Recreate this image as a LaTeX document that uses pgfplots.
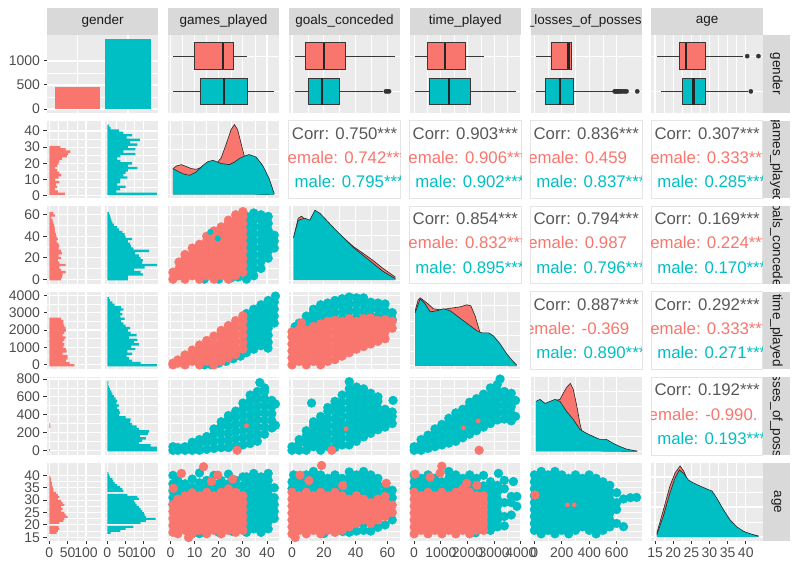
\documentclass[border=0pt]{standalone}
\usepackage{pgfplots}
\usepackage{pgfplotstable}
\pgfplotsset{compat=1.18}
\usepgfplotslibrary{statistics}
\usepackage{fontspec}
\setmainfont{Liberation Sans}
\definecolor{fem}{HTML}{F8766D}
\definecolor{mal}{HTML}{00BFC4}
\definecolor{panelbg}{HTML}{EBEBEB}
\definecolor{stripbg}{HTML}{D9D9D9}
\definecolor{striptext}{HTML}{1A1A1A}
\definecolor{tickgrey}{HTML}{4D4D4D}
\definecolor{tickdark}{HTML}{333333}
\definecolor{corrgrey}{HTML}{595959}
\pgfplotsset{
 gg/.style={scale only axis, width=111.4pt, height=77.5pt, anchor=north west,
   axis background/.style={fill=panelbg}, axis line style={draw=none},
   grid=both, major grid style={draw=white, line width=1.1pt}, minor grid style={draw=white, line width=0.55pt},
   minor x tick num=1, minor y tick num=1,
   tick align=outside, major tick length=3.5pt, minor tick length=0pt,
   xtick pos=left, ytick pos=left,
   xtick style={draw=none}, ytick style={draw=none},
   xticklabel={\relax}, yticklabel={\relax},
   tick label style={font=\fontsize{14}{14}\selectfont, text=tickgrey},
   scaled ticks=false, /pgf/number format/1000 sep={}, /pgf/number format/assume math mode=true},
 xlab/.style={xticklabel={\pgfmathprintnumber{\tick}}, xtick style={draw=tickdark, line width=1pt}},
 ylab/.style={yticklabel={\pgfmathprintnumber{\tick}}, ytick style={draw=tickdark, line width=1pt}},
 atpx/.style 2 args={at={(#1pt,-#2pt)}},
 histax/.style={width=53.5pt, xmin=-6.5, xmax=139.5, xtick={0,50,100}},
 colG/.style={xmin=-1.1, xmax=45.1, xtick={0,10,20,30,40}},
 colK/.style={xmin=-2, xmax=68, xtick={0,20,40,60}},
 colT/.style={xmin=-170, xmax=4005, xtick={0,1000,2000,3000,4000}},
 colL/.style={xmin=-28, xmax=784, xtick={0,200,400,600}},
 colA/.style={xmin=14, xmax=44.7, xtick={15,20,25,30,35,40}},
 rowG/.style={ymin=-1.5, ymax=46.4, ytick={0,10,20,30,40}},
 rowK/.style={ymin=-4.2, ymax=68, ytick={0,20,40,60}},
 rowT/.style={ymin=-255, ymax=4196, ytick={0,1000,2000,3000,4000}},
 rowL/.style={ymin=-52, ymax=818, ytick={0,200,400,600,800}},
 rowA/.style={ymin=13.7, ymax=45, ytick={15,20,25,30,35,40}},
 diagY/.style={ymin=-3.5, ymax=74, ytick={0,30,60}},
 boxrow/.style={ymin=0.4, ymax=2.6, ytick={1,2}, minor y tick num=0},
 corrax/.style={gg, axis background/.style={fill=white}, grid=none, axis line style={draw=black!10, line width=0.8pt},
   xmin=0, xmax=1, ymin=0, ymax=1, xtick=\empty, ytick=\empty},
 bx/.style={fill=#1, draw=black!78, line width=0.9pt, boxplot/draw direction=x, boxplot/box extend=0.75,
   boxplot/whisker extend=0, boxplot/every median/.style={draw=black!85, line width=2.4pt}},
 outl/.style={only marks, mark=*, mark size=2.1pt, black!80},
 scF/.style={only marks, mark=*, mark size=4.4pt, color=fem},
 scM/.style={only marks, mark=*, mark size=4.4pt, color=mal},
 scFs/.style={only marks, mark=*, mark size=2.2pt, color=fem},
 scMs/.style={only marks, mark=*, mark size=2.8pt, color=mal},
 hF/.style={xbar interval, fill=fem, draw=none},
 hM/.style={xbar interval, fill=mal, draw=none},
 dline/.style={draw=black!85, line width=0.6pt},
}
\tikzset{
 ctitle/.style={text=corrgrey, font=\fontsize{16.8}{17}\selectfont},
 cfem/.style={text=fem, font=\fontsize{16.8}{17}\selectfont},
 cmal/.style={text=mal, font=\fontsize{16.8}{17}\selectfont},
}
\newcommand{\pad}[1]{\rule{#1}{0pt}}
\newcommand{\topstrip}[3]{%
 \fill[stripbg] (#1,-8) rectangle ({#1+#2},-35);
 \begin{scope}\clip (#1,-8) rectangle ({#1+#2},-35);
 \node[font=\fontsize{13.5}{14}\selectfont, text=striptext] at ({#1+#2/2},-21.5) {#3};
 \end{scope}}
\newcommand{\rightstrip}[2]{%
 \fill[stripbg] (762.8,-#1) rectangle (790,{-#1-77.5});
 \begin{scope}\clip (762.8,-#1) rectangle (790,{-#1-77.5});
 \node[rotate=-90, font=\fontsize{13.5}{14}\selectfont, text=striptext] at (776.4,{-#1-38.75}) {#2};
 \end{scope}}

\pgfplotstableread{
x y
1 26
2.5 28.7
4.5 30
6.6 28
8.6 26
10.7 25.3
12.8 27.3
14.8 29.3
16.9 30
18.9 30.7
21 36.7
23 50
25.1 65
26.5 70
27.8 65
29.2 51.7
30.6 38.3
31.9 21.7
33.3 6.7
34.7 1
36 0.2
43 0
}\dGF
\pgfplotstableread{
x y
1 26
3.5 22.7
5.5 20.5
7.9 19.3
10.7 22.7
13.5 29.3
15.5 33
17.6 34.3
19.5 32.5
21 31
24.4 30
26.5 32.5
28.5 36
30.6 38.5
32.6 40
35.4 37.7
38.2 29.3
40.9 16
43 0.7
}\dGM
\pgfplotstableread{
x y
1 42
3.9 62
6 64
8.1 61
11.2 59
14.4 69
17.5 66
21.7 59
25.8 52
32 43
38.3 34
44.6 27
50.8 20
57 12
63.3 5
65 3
}\dKF
\pgfplotstableread{
x y
1 43
3.9 60
6 61
8.1 62
11.2 60
14.4 70
17.5 67
21.7 60
25.8 53
32 43
38.3 33
44.6 25
50.8 17
57 9
63.3 3
65 1.5
}\dKM
\pgfplotstableread{
x y
37 55
150 66
225 68
475 63
725 57
975 56
1225 57
1475 58
1725 59
1975 61
2125 60
2285 50
2470 33
2660 13
2845 2
3000 0.3
3850 0
}\dTF
\pgfplotstableread{
x y
37 53
225 67
412 62
600 54
850 55
1100 57
1350 55
1600 50
1850 45
2100 40
2350 35
2535 33
2785 33
2970 30
3220 22
3470 12
3720 4
3850 0.7
}\dTM
\pgfplotstableread{
x y
12 49
41 51
78 47
114 49
150 51
187 52
210 58
235 64
262 68
284 62
310 45
332 28
355 15
381 8
420 3
480 0.5
750 0
}\dLF
\pgfplotstableread{
x y
12 50
41 52
78 48
114 50
150 52
187 50
235 40
284 32
332 22
381 18
429 15
478 12
526 12
575 8
623 5
672 2.3
720 1
750 0.3
}\dLM
\pgfplotstableread{
x y
15.5 4
17.3 27
19.1 51
20.5 64
21.9 71
22.9 66
24.2 55
25.6 52
27.4 50
29.3 47
30.7 44
32 38
33.9 26
35.7 16
37.6 9
39.4 5
41.2 3
43.5 1
}\dAF
\pgfplotstableread{
x y
15.5 2.3
17.3 21
19.1 44
20.5 59
21.7 67
22.8 64
24.2 57
25.6 54
27.4 51
29.3 48
30.7 46
32 39
33.9 27
35.7 17
37.6 10
39.4 5.7
41.2 3.3
43.5 0.7
}\dAM

\begin{document}
\begin{tikzpicture}[x=1pt,y=1pt]
\path[use as bounding box] (0,0) rectangle (800,-571);

% ---------------- Row 1 ----------------
\begin{axis}[gg, atpx={47}{35}, xmin=0.4, xmax=2.6, xtick={1,2}, minor x tick num=0, ymin=-73, ymax=1541, ytick={0,500,1000}, ylab]
\addplot[ybar, bar width=0.9, bar shift=0pt, fill=fem, draw=none] coordinates {(1,452)};
\addplot[ybar, bar width=0.9, bar shift=0pt, fill=mal, draw=none] coordinates {(2,1452)};
\end{axis}
\begin{axis}[gg, atpx={167.9}{35}, colG, boxrow]
\addplot[bx=fem, boxplot prepared={lower whisker=1, lower quartile=10.1, median=21.8, upper quartile=26, upper whisker=31.8, draw position=2}] coordinates {};
\addplot[bx=mal, boxplot prepared={lower whisker=1, lower quartile=12.2, median=22.2, upper quartile=31.8, upper whisker=43, draw position=1}] coordinates {};
\end{axis}
\begin{axis}[gg, atpx={288.8}{35}, colK, boxrow]
\addplot[bx=fem, boxplot prepared={lower whisker=1.9, lower quartile=8.6, median=20.3, upper quartile=33.4, upper whisker=64.9, draw position=2}] coordinates {};
\addplot[bx=mal, boxplot prepared={lower whisker=1.9, lower quartile=10.3, median=18.7, upper quartile=29.6, upper whisker=57.5, draw position=1}] coordinates {};
\addplot[outl] coordinates {(59,1)(60,1)(61,1)};
\end{axis}
\begin{axis}[gg, atpx={409.6}{35}, colT, boxrow]
\addplot[bx=fem, boxplot prepared={lower whisker=37, lower quartile=498, median=1161, upper quartile=1936, upper whisker=2633, draw position=2}] coordinates {};
\addplot[bx=mal, boxplot prepared={lower whisker=37, lower quartile=562, median=1311, upper quartile=2124, upper whisker=3820, draw position=1}] coordinates {};
\end{axis}
\begin{axis}[gg, atpx={530.5}{35}, colL, boxrow]
\addplot[bx=fem, boxplot prepared={lower whisker=12, lower quartile=127, median=248, upper quartile=267, upper whisker=277, draw position=2}] coordinates {};
\addplot[bx=mal, boxplot prepared={lower whisker=12, lower quartile=83, median=187, upper quartile=284, upper whisker=580, draw position=1}] coordinates {};
\addplot[outl] coordinates {(585,1)(592,1)(600,1)(608,1)(615,1)(625,1)(635,1)(648,1)(660,1)(672,1)(750,1)};
\end{axis}
\begin{axis}[gg, atpx={651.4}{35}, colA, boxrow]
\addplot[bx=fem, boxplot prepared={lower whisker=15.6, lower quartile=21.6, median=23.5, upper quartile=28.8, upper whisker=39.3, draw position=2}] coordinates {};
\addplot[bx=mal, boxplot prepared={lower whisker=16.6, lower quartile=22.6, median=25.6, upper quartile=29, upper whisker=40.7, draw position=1}] coordinates {};
\addplot[outl] coordinates {(40.4,2)(43.5,2)(41.4,1)};
\end{axis}

% ---------------- Row 2 ----------------
\begin{axis}[gg, histax, atpx={47}{120.6}, rowG, ylab]
\addplot[hF] coordinates {(42,0.4)(24,1.85)(15,3.3)(21,4.75)(18,6.2)(27,7.65)(16,9.1)(25,10.55)(33,12)(27,13.45)(21,14.9)(15,16.35)(21,17.8)(25,19.25)(27,20.7)(35,22.15)(48,23.6)(51,25.05)(57,26.5)(44,27.95)(30,29.4)(0,30.85)};
\end{axis}
\begin{axis}[gg, histax, atpx={104.9}{120.6}, rowG]
\addplot[hM] coordinates {(135,0.4)(25,1.85)(35,3.3)(50,4.75)(27,6.2)(35,7.65)(36,9.1)(55,10.55)(44,12)(50,13.45)(56,14.9)(82,16.35)(56,17.8)(68,19.25)(36,20.7)(27,22.15)(36,23.6)(77,25.05)(44,26.5)(77,27.95)(56,29.4)(82,30.85)(62,32.3)(89,33.75)(53,35.2)(68,36.65)(44,38.1)(32,39.55)(9,41)(5,42.45)(0,43.9)};
\end{axis}
\begin{axis}[gg, atpx={167.9}{120.6}, colG, diagY]
\addplot[fill=fem, draw=none] table {\dGF} \closedcycle;
\addplot[dline] table {\dGF};
\addplot[fill=mal, draw=none] table {\dGM} \closedcycle;
\addplot[dline] table {\dGM};
\end{axis}
\begin{axis}[corrax, atpx={288.8}{120.6}]
\node[ctitle] at (rel axis cs:0.5,0.836) {Corr: 0.750***};
\node[cfem] at (rel axis cs:0.5,0.526) {female: 0.742***};
\node[cmal] at (rel axis cs:0.5,0.212) {\pad{0.556em}male: 0.795***};
\end{axis}
\begin{axis}[corrax, atpx={409.6}{120.6}]
\node[ctitle] at (rel axis cs:0.5,0.836) {Corr: 0.903***};
\node[cfem] at (rel axis cs:0.5,0.526) {female: 0.906***};
\node[cmal] at (rel axis cs:0.5,0.212) {\pad{0.556em}male: 0.902***};
\end{axis}
\begin{axis}[corrax, atpx={530.5}{120.6}]
\node[ctitle] at (rel axis cs:0.5,0.836) {Corr: 0.836***};
\node[cfem] at (rel axis cs:0.5,0.526) {female: 0.459\pad{1.3em}};
\node[cmal] at (rel axis cs:0.5,0.212) {\pad{0.556em}male: 0.837***};
\end{axis}
\begin{axis}[corrax, atpx={651.4}{120.6}]
\node[ctitle] at (rel axis cs:0.5,0.836) {Corr: 0.307***};
\node[cfem] at (rel axis cs:0.5,0.526) {female: 0.333***};
\node[cmal] at (rel axis cs:0.5,0.212) {\pad{0.556em}male: 0.285***};
\end{axis}

% ---------------- Row 3 ----------------
\begin{axis}[gg, histax, atpx={47}{206.2}, rowK, ylab]
\addplot[hF] coordinates {(32,-1.1)(35,1.1)(36,3.3)(44,5.5)(32,7.7)(27,9.9)(44,12.1)(27,14.3)(23,16.5)(32,18.7)(25,20.9)(35,23.1)(32,25.3)(25,27.5)(27,29.7)(25,31.9)(20,34.1)(23,36.3)(20,38.5)(18,40.7)(16,42.9)(15,45.1)(14,47.3)(13,49.5)(11,51.7)(9,53.9)(5,56.1)(15,58.3)(11,60.5)(0,62.7)};
\end{axis}
\begin{axis}[gg, histax, atpx={104.9}{206.2}, rowK]
\addplot[hM] coordinates {(56,-1.1)(56,1.1)(98,3.3)(91,5.5)(73,7.7)(102,9.9)(136,12.1)(95,14.3)(98,16.5)(91,18.7)(86,20.9)(75,23.1)(114,25.3)(71,27.5)(65,29.7)(62,31.9)(56,34.1)(68,36.3)(50,38.5)(47,40.7)(41,42.9)(32,45.1)(27,47.3)(18,49.5)(14,51.7)(11,53.9)(9,56.1)(7,58.3)(5,60.5)(0,62.7)};
\end{axis}
\begin{axis}[gg, atpx={167.9}{206.2}, colG, rowK]
\addplot[scM] coordinates {(31.5,0)(31.5,6.5)(31.5,13)(31.5,19.5)(31.5,26)(31.5,32.5)(31.5,39)(31.5,45.5)(31.5,52)(31.5,58.5)(34.5,3.2)(34.5,9.7)(34.5,16.2)(34.5,22.7)(34.5,29.2)(34.5,35.7)(34.5,42.2)(34.5,48.7)(34.5,55.2)(34.5,61.7)(37.5,10)(37.5,16.5)(37.5,23)(37.5,29.5)(37.5,36)(37.5,42.5)(37.5,49)(37.5,55.5)(37.5,60)(40.5,19.5)(40.5,26)(40.5,32.5)(40.5,39)(40.5,45.5)(40.5,52)(40.5,58.5)(43,29)(43,35.5)(43,41)(14,0)(20,0)(25,1)(28,2)};
\addplot[scF] coordinates {(1,0)(1,6.5)(3.5,3.2)(3.5,9.7)(3.5,16)(6,0)(6,6.5)(6,13)(6,19.5)(6,23)(9,3.2)(9,9.7)(9,16.2)(9,22.7)(9,29)(12,0)(12,6.5)(12,13)(12,19.5)(12,26)(12,32.5)(15,3.2)(15,9.7)(15,16.2)(15,22.7)(15,29.2)(15,35.7)(15,40)(18,0)(18,6.5)(18,13)(18,19.5)(18,26)(18,32.5)(18,39)(18,45)(21,3.2)(21,9.7)(21,16.2)(21,22.7)(21,29.2)(21,35.7)(21,42.2)(21,48.7)(24,0)(24,6.5)(24,13)(24,19.5)(24,26)(24,32.5)(24,39)(24,45.5)(24,52)(24,55)(27,3.2)(27,9.7)(27,16.2)(27,22.7)(27,29.2)(27,35.7)(27,42.2)(27,48.7)(27,55.2)(27,60)(30,6.5)(30,13)(30,19.5)(30,26)(30,32.5)(30,39)(30,45.5)(30,52)(30,58.5)(30,63)};
\addplot[scMs] coordinates {(19.6,38)(16.5,44)};
\end{axis}
\begin{axis}[gg, atpx={288.8}{206.2}, colK, diagY]
\addplot[fill=fem, draw=none] table {\dKF} \closedcycle;
\addplot[dline] table {\dKF};
\addplot[fill=mal, draw=none] table {\dKM} \closedcycle;
\addplot[dline] table {\dKM};
\end{axis}
\begin{axis}[corrax, atpx={409.6}{206.2}]
\node[ctitle] at (rel axis cs:0.5,0.836) {Corr: 0.854***};
\node[cfem] at (rel axis cs:0.5,0.526) {female: 0.832***};
\node[cmal] at (rel axis cs:0.5,0.212) {\pad{0.556em}male: 0.895***};
\end{axis}
\begin{axis}[corrax, atpx={530.5}{206.2}]
\node[ctitle] at (rel axis cs:0.5,0.836) {Corr: 0.794***};
\node[cfem] at (rel axis cs:0.5,0.526) {female: 0.987\pad{1.3em}};
\node[cmal] at (rel axis cs:0.5,0.212) {\pad{0.556em}male: 0.796***};
\end{axis}
\begin{axis}[corrax, atpx={651.4}{206.2}]
\node[ctitle] at (rel axis cs:0.5,0.836) {Corr: 0.169***};
\node[cfem] at (rel axis cs:0.5,0.526) {female: 0.224***};
\node[cmal] at (rel axis cs:0.5,0.212) {\pad{0.556em}male: 0.170***};
\end{axis}

% ---------------- Row 4 ----------------
\begin{axis}[gg, histax, atpx={47}{291.8}, rowT, ylab]
\addplot[hF] coordinates {(68,-93)(55,40.5)(45,174)(50,307.5)(50,441)(36,574.5)(47,708)(45,841.5)(38,975)(41,1108.5)(36,1242)(41,1375.5)(44,1509)(36,1642.5)(41,1776)(45,1909.5)(44,2043)(41,2176.5)(38,2310)(38,2443.5)(32,2577)(0,2710.5)};
\end{axis}
\begin{axis}[gg, histax, atpx={104.9}{291.8}, rowT]
\addplot[hM] coordinates {(135,-93)(91,40.5)(68,174)(59,307.5)(53,441)(68,574.5)(55,708)(77,841.5)(65,975)(86,1108.5)(73,1242)(82,1375.5)(59,1509)(80,1642.5)(64,1776)(56,1909.5)(62,2043)(50,2176.5)(44,2310)(38,2443.5)(47,2577)(36,2710.5)(41,2844)(36,2977.5)(44,3111)(38,3244.5)(20,3378)(14,3511.5)(7,3645)(5,3778.5)(0,3912)};
\end{axis}
\begin{axis}[gg, atpx={167.9}{291.8}, colG, rowT]
\addplot[scM] coordinates {(31.5,700)(31.5,1100)(31.5,1500)(31.5,1900)(31.5,2300)(31.5,2700)(31.5,2950)(34.5,900)(34.5,1300)(34.5,1700)(34.5,2100)(34.5,2500)(34.5,2900)(34.5,3200)(37.5,1100)(37.5,1500)(37.5,1900)(37.5,2300)(37.5,2700)(37.5,3100)(37.5,3450)(40.5,1300)(40.5,1700)(40.5,2100)(40.5,2500)(40.5,2900)(40.5,3300)(40.5,3700)(43,2400)(43,2800)(43,3200)(43,3600)(43.5,3950)(14,0)(17,0)(20,100)(23,200)(26,350)(29,500)(39.6,1350)(40.4,960)};
\addplot[scF] coordinates {(1,0)(1,100)(3,100)(3,280)(6,0)(6,400)(6,570)(9,200)(9,600)(9,850)(12,0)(12,400)(12,800)(12,1140)(15,200)(15,600)(15,1000)(15,1400)(18,0)(18,400)(18,800)(18,1200)(18,1650)(21,200)(21,600)(21,1000)(21,1400)(21,1800)(21,1980)(24,400)(24,800)(24,1200)(24,1600)(24,2000)(24,2260)(27,600)(27,1000)(27,1400)(27,1800)(27,2200)(27,2540)(30,900)(30,1300)(30,1700)(30,2100)(30,2500)(30,2820)};
\end{axis}
\begin{axis}[gg, atpx={288.8}{291.8}, colK, rowT]
\addplot[scM] coordinates {(9,2000)(9,2400)(9,2800)(13.5,2200)(13.5,2600)(13.5,3000)(13.5,3200)(18,2400)(18,2800)(18,3200)(18,3450)(22.5,2500)(22.5,2900)(22.5,3300)(22.5,3550)(27,2600)(27,3000)(27,3400)(27,3700)(31.5,2600)(31.5,3000)(31.5,3400)(31.5,3800)(36,2700)(36,3100)(36,3500)(36,3900)(40.5,2700)(40.5,3100)(40.5,3500)(40.5,3850)(45,2700)(45,3100)(45,3500)(45,3850)(49.5,2800)(49.5,3200)(49.5,3600)(54,2800)(54,3200)(54,3550)(58.5,2700)(58.5,3100)(58.5,3500)(63,2600)(63,3000)(4.5,2400)(2,2200)};
\addplot[scF] coordinates {(0,0)(0,400)(0,800)(0,1200)(0,1600)(0,1900)(4.5,200)(4.5,600)(4.5,1000)(4.5,1400)(4.5,1800)(4.5,2050)(6,2410)(9,0)(9,400)(9,800)(9,1200)(9,1600)(9,2000)(13.5,200)(13.5,600)(13.5,1000)(13.5,1400)(13.5,1800)(13.5,2200)(18,0)(18,400)(18,800)(18,1200)(18,1600)(18,2000)(18,2350)(22.5,200)(22.5,600)(22.5,1000)(22.5,1400)(22.5,1800)(22.5,2200)(22.5,2500)(27,300)(27,700)(27,1100)(27,1500)(27,1900)(27,2300)(27,2550)(31.5,500)(31.5,900)(31.5,1300)(31.5,1700)(31.5,2100)(31.5,2500)(36,700)(36,1100)(36,1500)(36,1900)(36,2300)(36,2650)(40.5,900)(40.5,1300)(40.5,1700)(40.5,2100)(40.5,2500)(45,1050)(45,1450)(45,1850)(45,2250)(45,2650)(49.5,1200)(49.5,1600)(49.5,2000)(49.5,2400)(49.5,2700)(54,1350)(54,1750)(54,2150)(54,2550)(58.5,1500)(58.5,1900)(58.5,2300)(58.5,2600)(63,2100)(63,2500)};
\end{axis}
\begin{axis}[gg, atpx={409.6}{291.8}, colT, diagY]
\addplot[fill=fem, draw=none] table {\dTF} \closedcycle;
\addplot[dline] table {\dTF};
\addplot[fill=mal, draw=none] table {\dTM} \closedcycle;
\addplot[dline] table {\dTM};
\end{axis}
\begin{axis}[corrax, atpx={530.5}{291.8}]
\node[ctitle] at (rel axis cs:0.5,0.836) {Corr: 0.887***};
\node[cfem] at (rel axis cs:0.5,0.526) {female: -0.369\pad{1.35em}};
\node[cmal] at (rel axis cs:0.5,0.212) {\pad{0.556em}male: 0.890***};
\end{axis}
\begin{axis}[corrax, atpx={651.4}{291.8}]
\node[ctitle] at (rel axis cs:0.5,0.836) {Corr: 0.292***};
\node[cfem] at (rel axis cs:0.5,0.526) {female: 0.333***};
\node[cmal] at (rel axis cs:0.5,0.212) {\pad{0.556em}male: 0.271***};
\end{axis}

% ---------------- Row 5 ----------------
\begin{axis}[gg, histax, atpx={47}{377.4}, rowL, ylab]
\addplot[hF] coordinates {(3,-11)(0,15.3)};
\addplot[hF] coordinates {(3,252)(2,278.3)(0,304.6)};
\end{axis}
\begin{axis}[gg, histax, atpx={104.9}{377.4}, rowL]
\addplot[hM] coordinates {(135,-11)(135,15.3)(118,41.6)(86,67.9)(95,94.2)(105,120.5)(89,146.8)(111,173.1)(114,199.4)(86,225.7)(80,252)(68,278.3)(62,304.6)(64,330.9)(50,357.2)(32,383.5)(35,409.8)(32,436.1)(27,462.4)(32,488.7)(25,515)(27,541.3)(23,567.6)(18,593.9)(14,620.2)(11,646.5)(7,672.8)(5,699.1)(2,725.4)(3,751.7)(0,778)};
\end{axis}
\begin{axis}[gg, atpx={167.9}{377.4}, colG, rowL]
\addplot[scM] coordinates {(1,0)(1,40)(3,0)(3,30)(6,0)(6,40)(9,0)(9,60)(9,90)(12,0)(12,80)(12,120)(15,10)(15,90)(15,155)(18,20)(18,100)(18,180)(18,240)(21,30)(21,110)(21,190)(21,270)(21,320)(24,30)(24,110)(24,190)(24,270)(24,350)(24,390)(27,50)(27,130)(27,210)(27,290)(27,370)(27,440)(30,60)(30,140)(30,220)(30,300)(30,380)(30,460)(30,530)(33,75)(33,155)(33,235)(33,315)(33,395)(33,475)(33,555)(33,620)(36,100)(36,180)(36,260)(36,340)(36,420)(36,500)(36,580)(36,660)(37,760)(39,180)(39,260)(39,340)(39,420)(39,500)(39,580)(39,660)(39,700)(42,250)(42,330)(42,410)(42,490)(42,560)(43.5,280)(43.5,520)};
\addplot[scF] coordinates {(27.6,0)};
\addplot[scFs] coordinates {(31.5,275)};
\end{axis}
\begin{axis}[gg, atpx={288.8}{377.4}, colK, rowL]
\addplot[scM] coordinates {(0,0)(0,40)(4.5,0)(4.5,80)(4.5,120)(9,0)(9,80)(9,160)(9,220)(13.5,40)(13.5,120)(13.5,200)(13.5,280)(13.5,320)(12.3,530)(18,0)(18,80)(18,160)(18,240)(18,320)(18,380)(22.5,40)(22.5,120)(22.5,200)(22.5,280)(22.5,360)(22.5,440)(22.5,480)(27,30)(27,110)(27,190)(27,270)(27,350)(27,430)(27,510)(27,550)(31.5,60)(31.5,140)(31.5,220)(31.5,300)(31.5,380)(31.5,460)(31.5,540)(31.5,620)(36,60)(36,140)(36,220)(36,300)(36,380)(36,460)(36,540)(36,620)(36,690)(36,770)(40.5,100)(40.5,180)(40.5,260)(40.5,340)(40.5,420)(40.5,500)(40.5,580)(40.5,660)(40.5,710)(45,150)(45,230)(45,310)(45,390)(45,470)(45,550)(45,630)(45,690)(49.5,190)(49.5,270)(49.5,350)(49.5,430)(49.5,510)(49.5,590)(49.5,640)(54,230)(54,310)(54,390)(54,470)(54,550)(54,600)(58.5,260)(58.5,340)(58.5,420)(58.5,460)(63,300)(63,380)(63,430)(63.5,560)};
\addplot[scF] coordinates {(25,0)};
\addplot[scFs] coordinates {(34,240)};
\end{axis}
\begin{axis}[gg, atpx={409.6}{377.4}, colT, rowL]
\addplot[scM] coordinates {(0,0)(0,40)(260,0)(260,80)(260,120)(520,20)(520,100)(520,170)(780,40)(780,120)(780,200)(780,240)(1040,60)(1040,140)(1040,220)(1040,290)(1300,80)(1300,160)(1300,240)(1300,320)(1300,360)(1560,100)(1560,180)(1560,260)(1560,340)(1560,420)(1820,140)(1820,220)(1820,300)(1820,380)(1820,460)(2080,180)(2080,260)(2080,340)(2080,420)(2080,500)(2080,540)(2340,220)(2340,300)(2340,380)(2340,460)(2340,540)(2340,580)(2600,260)(2600,340)(2600,420)(2600,500)(2600,580)(2600,630)(2860,300)(2860,380)(2860,460)(2860,540)(2860,620)(2860,700)(3120,340)(3120,420)(3120,500)(3120,580)(3120,660)(3120,740)(3220,800)(3380,350)(3380,430)(3380,510)(3380,590)(3380,660)(3640,330)(3640,410)(3640,490)(3640,570)(3640,640)(3800,380)(3800,560)};
\addplot[scF] coordinates {(2435,0)};
\addplot[scFs] coordinates {(1850,250)(2400,330)};
\end{axis}
\begin{axis}[gg, atpx={530.5}{377.4}, colL, diagY]
\addplot[fill=fem, draw=none] table {\dLF} \closedcycle;
\addplot[dline] table {\dLF};
\addplot[fill=mal, draw=none] table {\dLM} \closedcycle;
\addplot[dline] table {\dLM};
\end{axis}
\begin{axis}[corrax, atpx={651.4}{377.4}]
\node[ctitle] at (rel axis cs:0.5,0.836) {Corr: 0.192***};
\node[cfem] at (rel axis cs:0.5,0.526) {female: -0.990.\pad{0.75em}};
\node[cmal] at (rel axis cs:0.5,0.212) {\pad{0.556em}male: 0.193***};
\end{axis}

% ---------------- Row 6 ----------------
\begin{axis}[gg, histax, atpx={47}{463}, rowA, ylab, xlab]
\addplot[hF] coordinates {(20,16.4)(23,17.21)(27,18.01)(25,18.82)(0,19.62)(27,20.43)(38,21.24)(41,22.04)(50,22.85)(44,23.65)(41,24.46)(32,25.27)(36,26.07)(32,26.88)(41,27.68)(36,28.49)(32,29.3)(23,30.1)(27,30.91)(23,31.71)(18,32.52)(11,33.33)(11,34.13)(9,34.94)(7,35.74)(7,36.55)(5,37.36)(5,38.16)(3,38.97)(0,39.77)};
\end{axis}
\begin{axis}[gg, histax, atpx={104.9}{463}, rowA, xlab]
\addplot[hM] coordinates {(9,16.4)(36,17.21)(50,18.01)(71,18.82)(0,19.62)(91,20.43)(105,21.24)(132,22.04)(105,22.85)(102,23.65)(100,24.46)(95,25.27)(91,26.07)(86,26.88)(80,27.68)(77,28.49)(73,29.3)(86,30.1)(82,30.91)(55,31.71)(0,32.52)(44,33.33)(41,34.13)(35,34.94)(27,35.74)(20,36.55)(16,37.36)(14,38.16)(7,38.97)(5,39.77)(3,40.58)(0,41.39)};
\end{axis}
\begin{axis}[gg, atpx={167.9}{463}, colG, rowA, xlab]
\addplot[scM] coordinates {(31.5,17)(31.5,19.8)(31.5,22.6)(31.5,25.4)(31.5,28.2)(31.5,31)(31.5,33.8)(31.5,36.6)(31.5,39.4)(34.5,18.4)(34.5,21.2)(34.5,24)(34.5,26.8)(34.5,29.6)(34.5,32.4)(34.5,35.2)(34.5,38)(34.5,40.8)(37.5,17)(37.5,19.8)(37.5,22.6)(37.5,25.4)(37.5,28.2)(37.5,31)(37.5,33.8)(37.5,36.6)(37.5,39.4)(40.5,18.4)(40.5,21.2)(40.5,24)(40.5,26.8)(40.5,29.6)(40.5,32.4)(40.5,35.2)(40.5,38)(40.5,40.8)(43,22.6)(43,25.4)(43,28.2)(43,31)(43,35)(1,28.2)(1,31)(1,33.8)(1,36.6)(1,40)(3,29.6)(3,32.4)(3,35.2)(3,38)(6,31)(6,33.8)(6,36.6)(9,32.4)(9,35.2)(9,38.5)(12,31)(12,34)(12,37)(12,41)(15,32.4)(15,35.2)(15,38)(18,31)(18,34)(18,36.6)(18,40)(21,32.4)(21,35.2)(21,38)(24,31)(24,33.8)(24,36.6)(24,40.5)(27,32.4)(27,35.2)(27,38)(30,30)(30,33)(30,36)(30,39.4)(12,16.5)(20,17)(25.8,17.3)};
\addplot[scF] coordinates {(1,17)(1,19.8)(1,22.6)(1,25.4)(1,28.2)(3,16.4)(3,19.2)(3,22)(3,24.8)(3,27.6)(3,30.4)(6,17.8)(6,20.6)(6,23.4)(6,26.2)(6,29)(6,31.8)(7.5,14.9)(9,16.4)(9,19.2)(9,22)(9,24.8)(9,27.6)(9,30.4)(9,33)(12,17.8)(12,20.6)(12,23.4)(12,26.2)(12,29)(12,31.8)(15,16.4)(15,19.2)(15,22)(15,24.8)(15,27.6)(15,30.4)(15,33.2)(18,17.8)(18,20.6)(18,23.4)(18,26.2)(18,29)(18,31.8)(21,16.4)(21,19.2)(21,22)(21,24.8)(21,27.6)(21,30.4)(21,33.2)(24,17.8)(24,20.6)(24,23.4)(24,26.2)(24,29)(24,31.8)(24,34.6)(27,17)(27,19.2)(27,22)(27,24.8)(27,27.6)(27,30.4)(27,33.2)(30,17.8)(30,20.6)(30,23.4)(30,26.2)(30,29)(30,31.8)(4.5,40.8)(13.7,43.5)(19.6,40.1)(17,37.5)(25.8,38.5)(1.2,34.8)};
\end{axis}
\begin{axis}[gg, atpx={288.8}{463}, colK, rowA, xlab]
\addplot[scM] coordinates {(0,34.6)(0,37.4)(1,40.2)(4.5,33.2)(4.5,36)(4.5,38.8)(9,34.6)(9,37.4)(9,40.2)(13.5,33.2)(13.5,36)(13.5,38.8)(13.5,41.6)(18,34.6)(18,37.4)(18,40.2)(22.5,33.2)(22.5,36)(22.5,38.8)(27,34.6)(27,37.4)(27,40.2)(31.5,33.2)(31.5,36)(31.5,38.8)(36,33)(36,35.8)(36,38.6)(36,41.4)(36,17)(40.5,34.6)(40.5,37.4)(40.5,40.2)(40.5,17.5)(45,17.8)(45,20.6)(45,33.2)(45,36)(45,38.8)(45,41.6)(49.5,17.5)(49.5,32)(49.5,34.6)(49.5,37.4)(49.5,40.2)(54,19)(54,33.2)(54,36)(54,38.8)(58.5,20)(58.5,33)(58.5,35.8)(63,22)(63,31)(63,34)(31.9,17.3)(20,16.5)};
\addplot[scF] coordinates {(0,16.4)(0,19.2)(0,22)(0,24.8)(0,27.6)(0,30.4)(0,33.2)(4.5,17.8)(4.5,20.6)(4.5,23.4)(4.5,26.2)(4.5,29)(4.5,31.8)(9,16.4)(9,19.2)(9,22)(9,24.8)(9,27.6)(9,30.4)(9,33.2)(13.5,17.8)(13.5,20.6)(13.5,23.4)(13.5,26.2)(13.5,29)(13.5,31.8)(18,16.4)(18,19.2)(18,22)(18,24.8)(18,27.6)(18,30.4)(18,33.2)(22.5,17.8)(22.5,20.6)(22.5,23.4)(22.5,26.2)(22.5,29)(22.5,31.8)(27,17)(27,19.2)(27,22)(27,24.8)(27,27.6)(27,30.4)(27,33.2)(31.5,17.8)(31.5,20.6)(31.5,23.4)(31.5,26.2)(31.5,29)(31.5,31.8)(36,19.2)(36,22)(36,24.8)(36,27.6)(36,30.4)(40.5,20.6)(40.5,23.4)(40.5,26.2)(40.5,29)(40.5,31.8)(45,22)(45,24.8)(45,27.6)(45,30.4)(49.5,20.6)(49.5,23.4)(49.5,26.2)(49.5,29)(54,22)(54,24.8)(54,27.6)(54,30.4)(58.5,23.4)(58.5,26.2)(58.5,29)(58.5,31.5)(63,25)(63,28)(18.6,44)(5,40.1)(10.6,37.9)(59.2,36.8)(31.9,35.9)(2,14.9)};
\end{axis}
\begin{axis}[gg, atpx={409.6}{463}, colT, rowA, xlab]
\addplot[scM] coordinates {(0,34.6)(0,37.4)(0,40.2)(260,33.2)(260,36)(260,38.8)(520,34.6)(520,37.4)(520,40.2)(780,33.2)(780,36)(780,38.8)(1040,34.6)(1040,37.4)(1300,33.2)(1300,36)(1300,38.8)(1300,41.6)(1560,34.6)(1560,37.4)(1560,40.2)(1820,36)(1820,38.8)(2080,34.6)(2080,37.4)(2080,40.2)(2340,33.2)(2340,38.8)(2600,33)(2600,35.8)(2600,40)(2860,17.8)(2860,20.6)(2860,23.4)(2860,26.2)(2860,29)(2860,31.8)(2860,34.6)(2860,37.4)(3120,19.2)(3120,22)(3120,24.8)(3120,27.6)(3120,30.4)(3120,33.2)(3120,36)(3160,40.8)(3380,19.6)(3380,23.4)(3380,29)(3380,34.6)(3380,38)(3640,24)(3640,29)(3640,31.5)(3720,37.5)(3850,27.5)(3850,31.5)(2300,16.8)};
\addplot[scF] coordinates {(0,16.4)(0,19.2)(0,22)(0,24.8)(0,27.6)(0,30.4)(0,33.2)(260,17.8)(260,20.6)(260,23.4)(260,26.2)(260,29)(260,31.8)(520,16.4)(520,19.2)(520,22)(520,24.8)(520,27.6)(520,30.4)(520,33.2)(780,17.8)(780,20.6)(780,23.4)(780,26.2)(780,29)(780,31.8)(1040,16.4)(1040,19.2)(1040,22)(1040,24.8)(1040,27.6)(1040,30.4)(1040,33.2)(1300,17.8)(1300,20.6)(1300,23.4)(1300,26.2)(1300,29)(1300,31.8)(1560,16.4)(1560,19.2)(1560,22)(1560,24.8)(1560,27.6)(1560,30.4)(1560,33.2)(1820,17.8)(1820,20.6)(1820,23.4)(1820,26.2)(1820,29)(1820,31.8)(1820,34.6)(2080,16.4)(2080,19.2)(2080,22)(2080,24.8)(2080,27.6)(2080,30.4)(2080,33.2)(2340,17.8)(2340,20.6)(2340,23.4)(2340,26.2)(2340,29)(2340,31.8)(2600,17.8)(2600,20.6)(2600,23.4)(2600,26.2)(2600,29)(2600,31.8)(1037,43.7)(37,40.5)(600,39.3)(975,41)(1973,36.8)(2350,36)};
\end{axis}
\begin{axis}[gg, atpx={530.5}{463}, colL, rowA, xlab]
\addplot[scM] coordinates {(0,17.8)(0,20.6)(0,23.4)(0,26.2)(0,29)(0,31.8)(0,34.6)(0,37.4)(0,40.2)(50,16.4)(50,19.2)(50,22)(50,24.8)(50,27.6)(50,30.4)(50,33.2)(50,36)(50,38.8)(50,41.6)(100,17.8)(100,20.6)(100,23.4)(100,26.2)(100,29)(100,31.8)(100,34.6)(100,37.4)(100,40.2)(150,16.4)(150,19.2)(150,22)(150,24.8)(150,27.6)(150,30.4)(150,33.2)(150,36)(150,38.8)(150,41.6)(200,17.8)(200,20.6)(200,23.4)(200,26.2)(200,29)(200,31.8)(200,34.6)(200,37.4)(200,40.2)(250,16.4)(250,19.2)(250,22)(250,24.8)(250,27.6)(250,30.4)(250,33.2)(250,36)(250,38.8)(300,17.8)(300,20.6)(300,23.4)(300,26.2)(300,29)(300,31.8)(300,34.6)(300,37.4)(300,40.2)(350,19.2)(350,22)(350,24.8)(350,27.6)(350,30.4)(350,33.2)(350,36)(350,38.8)(400,17.8)(400,20.6)(400,23.4)(400,26.2)(400,29)(400,31.8)(400,34.6)(400,37.4)(400,40.2)(450,16.4)(450,19.2)(450,22)(450,24.8)(450,27.6)(450,30.4)(450,33.2)(450,36)(450,38.8)(500,17.8)(500,20.6)(500,23.4)(500,26.2)(500,29)(500,31.8)(500,34.6)(500,37.4)(550,19.2)(550,22)(550,24.8)(550,27.6)(550,30.4)(550,33.2)(550,36)(600,20.6)(600,26.2)(600,29)(600,33)(650,19.3)(650,30.5)(700,31)(745,31.1)};
\addplot[scF] coordinates {(5,32.1)};
\addplot[scFs] coordinates {(242,28.1)(290,28.1)};
\end{axis}
\begin{axis}[gg, atpx={651.4}{463}, colA, diagY, xlab]
\addplot[fill=fem, draw=none] table {\dAF} \closedcycle;
\addplot[dline] table {\dAF};
\addplot[fill=mal, draw=none] table {\dAM} \closedcycle;
\addplot[dline] table {\dAM};
\end{axis}

% ---------------- Strips ----------------
\topstrip{47}{111.4}{gender}
\topstrip{167.9}{111.4}{games\_played}
\topstrip{288.8}{111.4}{goals\_conceded}
\topstrip{409.6}{111.4}{time\_played}
\topstrip{530.5}{111.4}{ball\_losses\_of\_possession}
\topstrip{651.4}{111.4}{age}
\rightstrip{35}{gender}
\rightstrip{120.6}{games\_played}
\rightstrip{206.2}{goals\_conceded}
\rightstrip{291.8}{time\_played}
\rightstrip{377.4}{ball\_losses\_of\_possession}
\rightstrip{463}{age}
\end{tikzpicture}
\end{document}
